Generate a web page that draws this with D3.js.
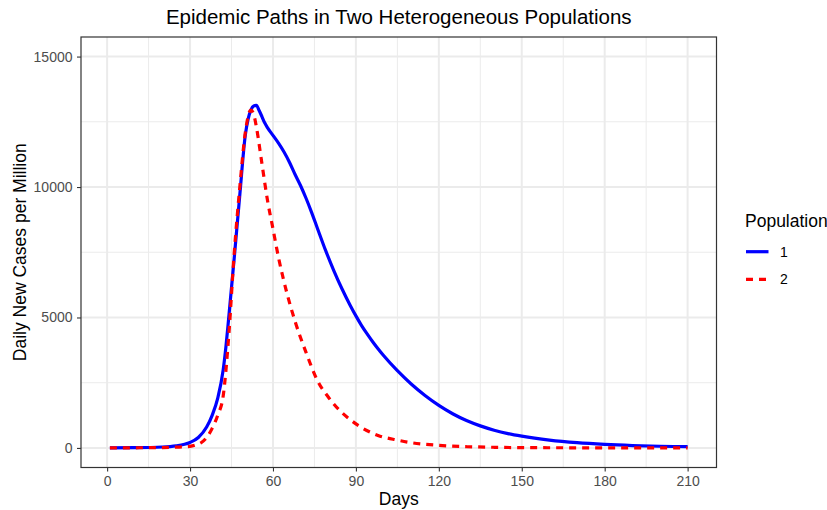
<!DOCTYPE html>
<html>
<head>
<meta charset="utf-8">
<script src="https://cdn.jsdelivr.net/npm/d3@7"></script>
<style>
  html, body { margin: 0; padding: 0; background: #fff; }
  svg { display: block; }
  text { font-family: "Liberation Sans", Arial, sans-serif; }
</style>
</head>
<body>
<svg id="chart" width="827" height="510"></svg>
<script>
// ---- Data ----
const title = "Epidemic Paths in Two Heterogeneous Populations";
const xLabel = "Days";
const yLabel = "Daily New Cases per Million";
const legendTitle = "Population";
const seriesNames = ["1", "2"];

const xTicks = [0, 30, 60, 90, 120, 150, 180, 210];
const yTicks = [0, 5000, 10000, 15000];

const days1 = [1, 10, 20, 25, 28, 30, 33, 36, 38, 40, 42, 43, 44, 46, 48, 50, 51, 52, 53, 54, 55, 56, 57, 58, 60, 62, 64, 66, 68, 70, 72, 74, 76, 79, 82, 85, 88, 90, 92, 94, 96, 98, 100, 105, 110, 115, 120, 125, 130, 135, 140, 145, 150, 160, 170, 180, 190, 200, 210];
const cases1 = [5, 10, 35, 80, 140, 210, 400, 800, 1250, 1900, 3000, 3900, 5000, 7300, 9700, 12000, 12600, 12950, 13110, 13130, 12930, 12700, 12460, 12280, 11980, 11680, 11340, 10940, 10480, 10050, 9560, 9020, 8440, 7580, 6800, 6090, 5450, 5060, 4700, 4380, 4080, 3800, 3540, 2960, 2450, 2010, 1630, 1310, 1050, 845, 680, 550, 450, 300, 200, 135, 92, 65, 48];

const days2 = [1, 10, 20, 25, 30, 32, 34, 36, 38, 40, 42, 44, 46, 48, 50, 52, 53, 54, 56, 58, 60, 62, 65, 68, 72, 76, 80, 84, 88, 91, 98, 105, 110, 120, 130, 140, 150, 170, 190, 210];
const cases2 = [2, 5, 15, 30, 60, 110, 200, 400, 750, 1250, 2000, 4300, 7500, 10000, 12100, 12950, 12800, 12300, 10900, 9500, 8400, 7300, 5950, 4850, 3650, 2600, 1950, 1450, 1080, 850, 480, 300, 200, 100, 50, 25, 12, 5, 2, 1];

// ---- Layout ----
const svg = d3.select("#chart");
const panel = { left: 81, top: 37, right: 716.5, bottom: 467.5 };

const xData = [1, 210];
const xPad = (xData[1] - xData[0]) * 0.05;
const x = d3.scaleLinear()
  .domain([xData[0] - xPad, xData[1] + xPad])
  .range([panel.left, panel.right]);

const yData = [0, 15000];
const yPad = (yData[1] - yData[0]) * 0.05;
const y = d3.scaleLinear()
  .domain([yData[0] - yPad, yData[1] + yPad])
  .range([panel.bottom, panel.top]);

svg.append("rect").attr("x", 0).attr("y", 0).attr("width", 827).attr("height", 510).attr("fill", "#fff");

// Grid
const gridG = svg.append("g");
const xMinor = d3.range(15, 220, 30);
const yMinor = [2500, 7500, 12500];
gridG.selectAll("line.xminor").data(xMinor).join("line")
  .attr("x1", d => x(d)).attr("x2", d => x(d))
  .attr("y1", panel.top).attr("y2", panel.bottom)
  .attr("stroke", "#EBEBEB").attr("stroke-width", 1);
gridG.selectAll("line.yminor").data(yMinor).join("line")
  .attr("y1", d => y(d)).attr("y2", d => y(d))
  .attr("x1", panel.left).attr("x2", panel.right)
  .attr("stroke", "#EBEBEB").attr("stroke-width", 1);
gridG.selectAll("line.xmajor").data(xTicks).join("line")
  .attr("x1", d => x(d)).attr("x2", d => x(d))
  .attr("y1", panel.top).attr("y2", panel.bottom)
  .attr("stroke", "#EBEBEB").attr("stroke-width", 2);
gridG.selectAll("line.ymajor").data(yTicks).join("line")
  .attr("y1", d => y(d)).attr("y2", d => y(d))
  .attr("x1", panel.left).attr("x2", panel.right)
  .attr("stroke", "#EBEBEB").attr("stroke-width", 2);

// Lines
const line = d3.line().curve(d3.curveMonotoneX)
  .x(d => x(d[0])).y(d => y(d[1]));

const s1 = days1.map((d, i) => [d, cases1[i]]);
const s2 = days2.map((d, i) => [d, cases2[i]]);

svg.append("clipPath").attr("id", "clip")
  .append("rect").attr("x", panel.left).attr("y", panel.top)
  .attr("width", panel.right - panel.left).attr("height", panel.bottom - panel.top);

const lineG = svg.append("g").attr("clip-path", "url(#clip)");
lineG.append("path").datum(s1).attr("d", line)
  .attr("fill", "none").attr("stroke", "#0000FF").attr("stroke-width", 3.2)
  .attr("stroke-linejoin", "round");
lineG.append("path").datum(s2).attr("d", line)
  .attr("fill", "none").attr("stroke", "#FF0000").attr("stroke-width", 3.2)
  .attr("stroke-dasharray", "7,6");

// Panel border
svg.append("rect")
  .attr("x", panel.left).attr("y", panel.top)
  .attr("width", panel.right - panel.left).attr("height", panel.bottom - panel.top)
  .attr("fill", "none").attr("stroke", "#333333").attr("stroke-width", 1.2);

// Axes
const xAxis = d3.axisBottom(x).tickValues(xTicks).tickSize(4).tickPadding(5).tickFormat(d3.format("d"));
const gx = svg.append("g").attr("transform", `translate(0,${panel.bottom})`).call(xAxis);
gx.select(".domain").remove();
gx.selectAll(".tick line").attr("stroke", "#333333").attr("stroke-width", 1.1);
gx.selectAll(".tick text").attr("fill", "#4D4D4D").style("font-size", "14px")
  .style("font-family", "'Liberation Sans', Arial, sans-serif");

const yAxis = d3.axisLeft(y).tickValues(yTicks).tickSize(4).tickPadding(4.5).tickFormat(d3.format("d"));
const gy = svg.append("g").attr("transform", `translate(${panel.left},0)`).call(yAxis);
gy.select(".domain").remove();
gy.selectAll(".tick line").attr("stroke", "#333333").attr("stroke-width", 1.1);
gy.selectAll(".tick text").attr("fill", "#4D4D4D").style("font-size", "14px")
  .style("font-family", "'Liberation Sans', Arial, sans-serif");

// Titles
svg.append("text").attr("x", (panel.left + panel.right) / 2).attr("y", 24)
  .attr("text-anchor", "middle").attr("fill", "#000").style("font-size", "20.5px")
  .text(title);
svg.append("text").attr("x", (panel.left + panel.right) / 2).attr("y", 505)
  .attr("text-anchor", "middle").attr("fill", "#000").style("font-size", "17.5px")
  .text(xLabel);
svg.append("text")
  .attr("transform", `translate(26,${(panel.top + panel.bottom) / 2}) rotate(-90)`)
  .attr("text-anchor", "middle").attr("fill", "#000").style("font-size", "17.5px")
  .text(yLabel);

// Legend
const lg = svg.append("g");
lg.append("text").attr("x", 745).attr("y", 227).attr("fill", "#000")
  .style("font-size", "17.5px").text(legendTitle);
const legendColors = ["#0000FF", "#FF0000"];
const legendDash = [null, "7,6"];
seriesNames.forEach((name, i) => {
  const yy = 251.7 + i * 27.6;
  lg.append("line").attr("x1", 746).attr("x2", 768.5).attr("y1", yy).attr("y2", yy)
    .attr("stroke", legendColors[i]).attr("stroke-width", 3.2)
    .attr("stroke-dasharray", legendDash[i]);
  lg.append("text").attr("x", 780).attr("y", yy + 5).attr("fill", "#000")
    .style("font-size", "14px").text(name);
});
</script>
</body>
</html>
